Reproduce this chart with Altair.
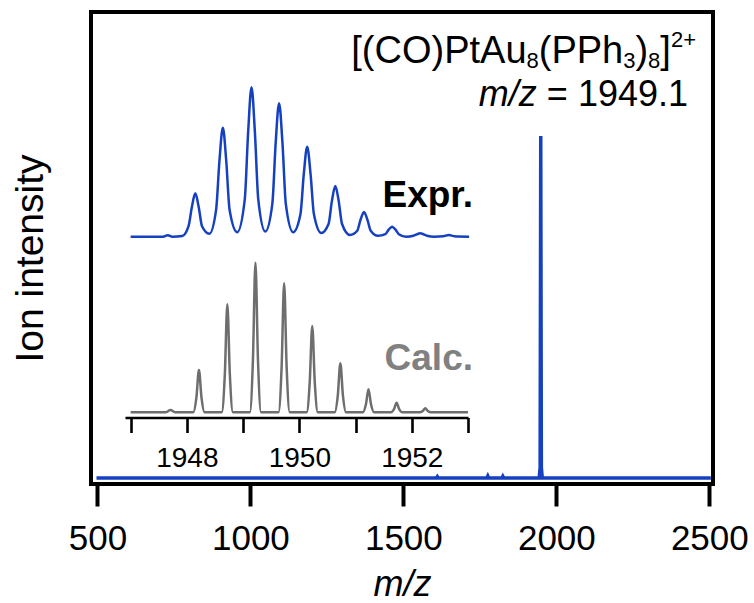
import altair as alt
import pandas as pd

# ---------------- data ----------------
# full-range spectrum (m/z, relative intensity)
MAIN_MZ = [497, 1608, 1611, 1614, 1773, 1776, 1779, 1822, 1825, 1828,
           1944, 1947, 1949, 1951, 1954, 2505]
MAIN_INT = [0, 0, 0.004, 0, 0, 0.006, 0, 0, 0.005, 0,
            0, 0.03, 1.0, 0.03, 0, 0]
MAIN_TICKS = [500, 1000, 1500, 2000, 2500]

# inset: experimental isotope pattern
EXPR_MZ = [1947.00, 1947.58, 1947.66, 1947.74, 1947.92,
           1948.03, 1948.09, 1948.15, 1948.21, 1948.27, 1948.40,
           1948.52, 1948.58, 1948.64, 1948.70, 1948.76, 1948.895,
           1949.03, 1949.09, 1949.15, 1949.21, 1949.27, 1949.395,
           1949.52, 1949.58, 1949.64, 1949.70, 1949.76, 1949.89,
           1950.02, 1950.08, 1950.14, 1950.20, 1950.26, 1950.39,
           1950.52, 1950.58, 1950.64, 1950.70, 1950.76, 1950.90,
           1951.03, 1951.09, 1951.15, 1951.21, 1951.27, 1951.40,
           1951.53, 1951.59, 1951.65, 1951.71, 1951.77, 1951.90,
           1952.03, 1952.09, 1952.15, 1952.21, 1952.27, 1952.40,
           1952.56, 1952.66, 1952.76, 1953.02]
EXPR_INT = [0.0, 0.0, 0.01, 0.0, 0.005,
            0.07, 0.20, 0.29, 0.20, 0.07, 0.02,
            0.18, 0.51, 0.73, 0.51, 0.18, 0.03,
            0.25, 0.70, 1.00, 0.70, 0.25, 0.035,
            0.22, 0.63, 0.893, 0.63, 0.22, 0.03,
            0.15, 0.42, 0.602, 0.42, 0.15, 0.025,
            0.085, 0.24, 0.339, 0.24, 0.085, 0.012,
            0.04, 0.115, 0.165, 0.115, 0.04, 0.006,
            0.017, 0.047, 0.067, 0.047, 0.017, 0.0,
            0.006, 0.016, 0.023, 0.016, 0.006, 0.0,
            0.003, 0.011, 0.003, 0.0]

# inset: calculated isotope pattern
CALC_MZ = [1947.00, 1947.62, 1947.71, 1947.80,
           1948.115, 1948.17, 1948.215, 1948.26, 1948.315,
           1948.62, 1948.675, 1948.72, 1948.765, 1948.82,
           1949.12, 1949.175, 1949.22, 1949.265, 1949.32,
           1949.63, 1949.685, 1949.73, 1949.775, 1949.83,
           1950.13, 1950.185, 1950.23, 1950.275, 1950.33,
           1950.63, 1950.685, 1950.73, 1950.775, 1950.83,
           1951.13, 1951.185, 1951.23, 1951.275, 1951.33,
           1951.63, 1951.685, 1951.73, 1951.775, 1951.83,
           1952.14, 1952.195, 1952.24, 1952.285, 1952.34, 1953.00]
CALC_INT = [0, 0, 0.015, 0,
            0, 0.10, 0.283, 0.10, 0,
            0, 0.25, 0.722, 0.25, 0,
            0, 0.35, 1.00, 0.35, 0,
            0, 0.30, 0.862, 0.30, 0,
            0, 0.20, 0.577, 0.20, 0,
            0, 0.115, 0.328, 0.115, 0,
            0, 0.054, 0.154, 0.054, 0,
            0, 0.022, 0.064, 0.022, 0,
            0, 0.009, 0.027, 0.009, 0, 0]
INSET_TICKS = [1947, 1948, 1949, 1950, 1951, 1952, 1953]

# ---------------- styling ----------------
BLUE = "#1540c0"
GREY = "#6e6e6e"
GREY_TXT = "#808080"
FONT = "Liberation Sans, Arial, sans-serif"

W, H = 622, 472
LEFT, TOP = 91, 12
PAD = {"left": LEFT, "top": TOP, "right": 754 - LEFT - W, "bottom": 603 - TOP - H}

# Arial / Liberation Sans advance widths (1/1000 em)
ADV = {" ": 278, "=": 584, ".": 278, "[": 278, "]": 278, "(": 333, ")": 333,
       "C": 722, "O": 778, "P": 667, "t": 278, "A": 667, "u": 556, "h": 556,
       "+": 584, "m": 833, "/": 278, "z": 500}
for d in "0123456789":
    ADV[d] = 556


def text_width(s, size):
    return sum(ADV[c] for c in s) * size / 1000.0


def label(text, x, y, size, align="left", color="black", weight="normal", style="normal"):
    return alt.Chart(alt.Data(values=[{}])).mark_text(
        text=text, align=align, baseline="alphabetic", font=FONT,
        fontSize=size, fontWeight=weight, fontStyle=style, color=color
    ).encode(x=alt.value(x), y=alt.value(y))


# ---------------- main spectrum ----------------
main_df = pd.DataFrame({"mz": MAIN_MZ, "inten": MAIN_INT})
main = alt.Chart(main_df).mark_line(color=BLUE, strokeWidth=3.5).encode(
    x=alt.X("mz:Q",
            scale=alt.Scale(domain=[479, 2512], nice=False, zero=False),
            axis=alt.Axis(values=MAIN_TICKS, format="d", grid=False, domain=False,
                          tickSize=22, tickWidth=4, tickColor="black",
                          labelFont=FONT, labelFontSize=35, labelColor="black",
                          labelPadding=43, labelBaseline="alphabetic",
                          labelFlush=False, labelOverlap=False,
                          title="m/z", titleFont=FONT, titleFontSize=36,
                          titleFontStyle="italic", titleFontWeight="normal",
                          titleColor="black", titleBaseline="alphabetic",
                          titleY=111)),
    y=alt.Y("inten:Q",
            scale=alt.Scale(domain=[-0.0175, 1.3626], nice=False, zero=False),
            axis=alt.Axis(labels=False, ticks=False, domain=False, grid=False,
                          title="Ion intensity", titleFont=FONT, titleFontSize=39,
                          titleFontWeight="normal", titleColor="black",
                          titleBaseline="alphabetic", titleAlign="center",
                          titleAngle=270, titleX=-49, titleY=246)),
)

# ---------------- inset ----------------
INSET_X = alt.Scale(domain=[1946.9, 1953.0], range=[34, 377], nice=False, zero=False)

calc_df = pd.DataFrame({"mz": CALC_MZ, "inten": CALC_INT})
calc = alt.Chart(calc_df).mark_line(color=GREY, strokeWidth=2.5, interpolate="monotone").encode(
    x=alt.X("mz:Q", scale=INSET_X,
            axis=alt.Axis(orient="bottom", offset=-66.5, values=INSET_TICKS, format="d",
                          labelExpr="datum.value % 2 === 0 ? datum.label : ''",
                          grid=False, domain=True, domainColor="black", domainWidth=2.6,
                          tickSize=15, tickWidth=2.6, tickColor="black",
                          labelFont=FONT, labelFontSize=28, labelColor="black",
                          labelPadding=34, labelBaseline="alphabetic",
                          labelFlush=False, labelOverlap=False, title=None)),
    y=alt.Y("inten:Q", scale=alt.Scale(domain=[0, 1], range=[400.3, 250.7]), axis=None),
)

expr_df = pd.DataFrame({"mz": EXPR_MZ, "inten": EXPR_INT})
expr = alt.Chart(expr_df).mark_line(color=BLUE, strokeWidth=2.5, interpolate="monotone").encode(
    x=alt.X("mz:Q", scale=INSET_X, axis=None),
    y=alt.Y("inten:Q", scale=alt.Scale(domain=[0, 1], range=[224.7, 75.3]), axis=None),
)

# ---------------- annotations ----------------
S, s = 38, 22
pieces = [("[(CO)PtAu", S, 0), ("8", s, 5), ("(PPh", S, 0), ("3", s, 5),
          (")", S, 0), ("8", s, 5), ("]", S, 0), ("2+", s, -16)]
right_edge = 696 - LEFT
base_y = 63 - TOP
total = sum(text_width(t, z) for t, z, _ in pieces)
cursor = right_edge - total
texts = []
for t, z, dy in pieces:
    texts.append(label(t, cursor, base_y + dy, z))
    cursor += text_width(t, z)

S2 = 36
eq = "= 1949.1"
eq_right = 688 - LEFT
line2_y = 106 - TOP
texts.append(label(eq, eq_right, line2_y, S2, align="right"))
texts.append(label("m/z", eq_right - text_width(eq, S2) - text_width(" ", S2), line2_y, S2,
                   align="right", style="italic"))

texts.append(label("Expr.", 473 - LEFT, 207 - TOP, 37, align="right", weight="bold"))
texts.append(label("Calc.", 473 - LEFT, 370 - TOP, 37, align="right", weight="bold",
                   color=GREY_TXT))

chart = alt.layer(main, calc, expr, *texts).resolve_scale(
    x="independent", y="independent"
).properties(
    width=W, height=H,
    autosize=alt.AutoSizeParams(type="none"),
    padding=PAD,
).configure(
    background="white", font=FONT,
    view=alt.ViewConfig(stroke="black", strokeWidth=4),
)

chart.save("out.html", embed_options={"renderer": "svg", "actions": False})
